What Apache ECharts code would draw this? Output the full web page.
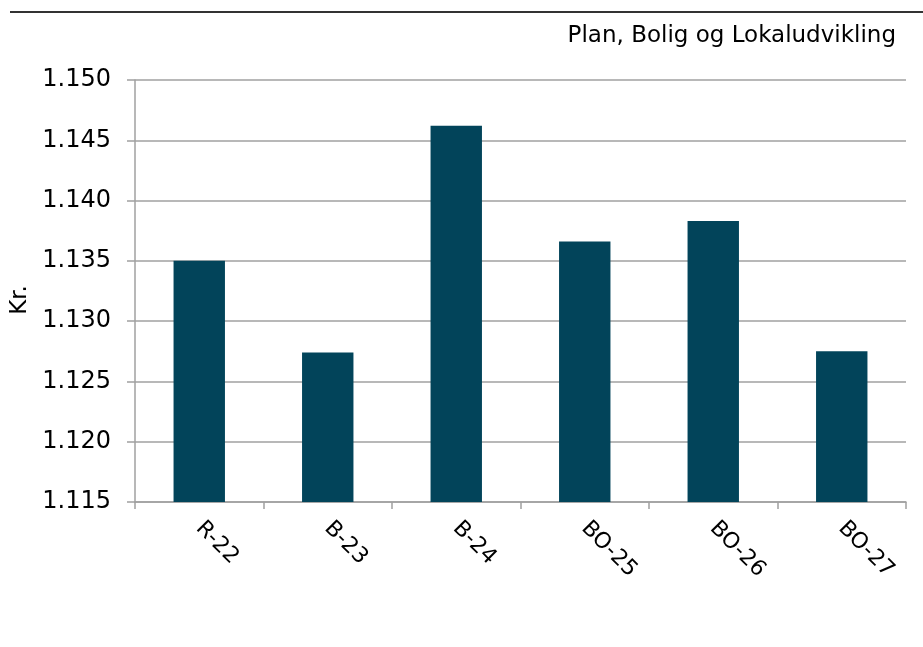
<!DOCTYPE html>
<html>
<head>
<meta charset="utf-8">
<script src="https://cdn.jsdelivr.net/npm/echarts@6/dist/echarts.min.js"></script>
<style>
  html, body { margin: 0; padding: 0; background: #fff; }
  #chart { width: 923px; height: 647px; }
</style>
</head>
<body>
<div id="chart"></div>
<script>
// kategorier og værdier (kr.)
const categories = ["R-22", "B-23", "B-24", "BO-25", "BO-26", "BO-27"];
const values = [1135.0, 1127.4, 1146.2, 1136.6, 1138.3, 1127.5];
const yMin = 1115;
const yMax = 1150;
const yStep = 5;

const font = "'DejaVu Sans', Verdana, sans-serif";

let myChart = echarts.init(document.getElementById("chart"));

myChart.setOption({
  animation: false,
  title: {
    text: "Plan, Bolig og Lokaludvikling",
    right: 22,
    top: 20,
    textStyle: {
      fontFamily: font,
      fontSize: 23,
      fontWeight: "normal",
      color: "#000",
    },
  },
  graphic: [
    {
      type: "line",
      shape: { x1: 10, y1: 12, x2: 923, y2: 12 },
      style: { stroke: "#333", lineWidth: 2 },
    },
  ],
  grid: {
    left: 135,
    right: 17,
    top: 80,
    bottom: 145,
  },
  xAxis: {
    type: "category",
    data: categories,
    axisLine: { lineStyle: { color: "#a0a0a0", width: 1.5 } },
    axisTick: { show: true, length: 7, lineStyle: { color: "#a0a0a0", width: 1.5 } },
    axisLabel: {
      rotate: -45,
      margin: 23,
      color: "#000",
      fontFamily: font,
      fontSize: 22,
    },
  },
  yAxis: {
    type: "value",
    min: yMin,
    max: yMax,
    interval: yStep,
    name: "Kr.",
    nameLocation: "middle",
    nameGap: 97,
    nameTextStyle: { fontFamily: font, fontSize: 23, color: "#000", padding: [0, 18, 0, 0] },
    axisLine: { show: true, lineStyle: { color: "#a0a0a0", width: 1.5 } },
    axisTick: { show: true, length: 8, lineStyle: { color: "#a0a0a0", width: 1.5 } },
    axisLabel: {
      margin: 24,
      color: "#000",
      fontFamily: font,
      fontSize: 24,
      formatter: function (v) {
        return (v / 1000).toFixed(3);
      },
    },
    splitLine: { lineStyle: { color: "#a0a0a0", width: 1.5 } },
  },
  series: [
    {
      type: "bar",
      data: values,
      barWidth: "40%",
      itemStyle: { color: "#02445a" },
    },
  ],
});
</script>
</body>
</html>
